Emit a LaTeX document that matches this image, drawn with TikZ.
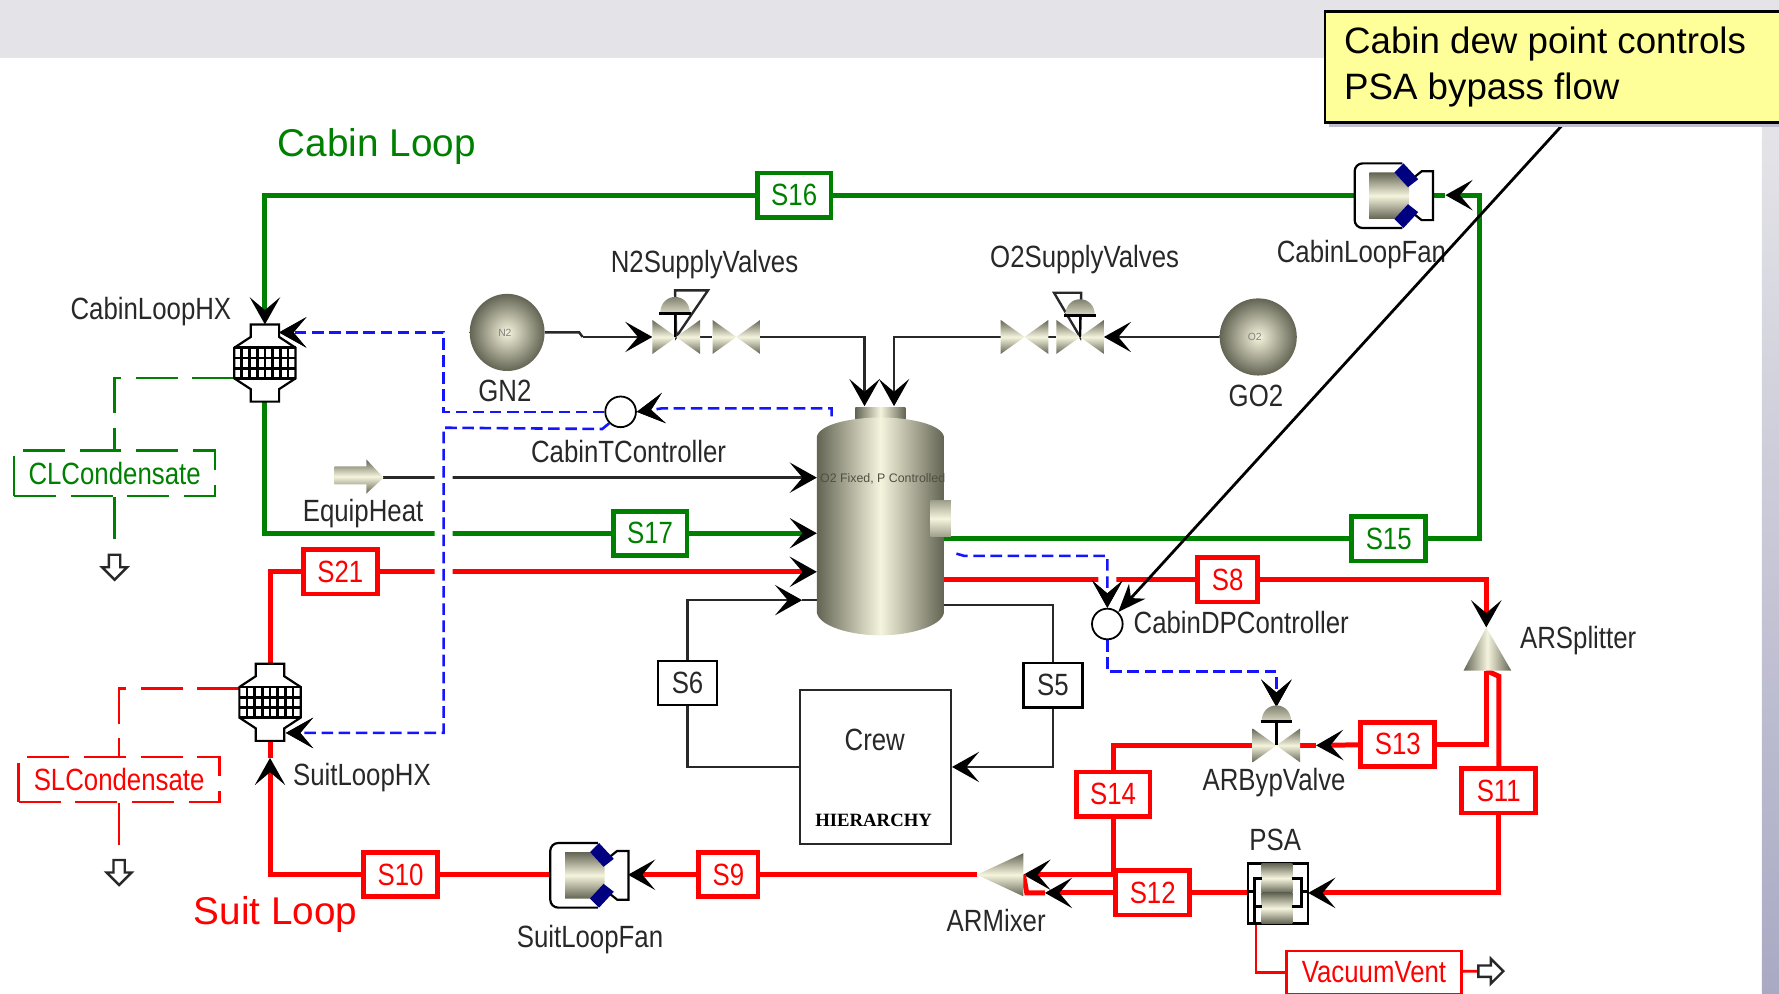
\documentclass[tikz,border=0pt]{standalone}
\usepackage{fontspec}
\usepackage{xcolor}
\usetikzlibrary{arrows.meta, backgrounds}
\setmainfont{Liberation Sans}
\newfontfamily\unitlabel[FakeStretch=0.84]{Liberation Sans}
\newfontfamily\hierlabel{Liberation Serif}

\definecolor{cabgreen}{RGB}{0,128,0}
\definecolor{suitred}{RGB}{255,0,0}
\definecolor{ctrlblue}{RGB}{20,20,255}
\definecolor{metaldark}{RGB}{100,100,84}
\definecolor{metalpale}{RGB}{245,245,222}
\definecolor{notefill}{RGB}{255,255,153}
\definecolor{noteshadow}{RGB}{190,190,207}
\definecolor{bandgray}{RGB}{228,228,232}
\definecolor{stripgray}{RGB}{169,169,196}
\definecolor{inktext}{RGB}{40,40,40}

\tikzset{
  lbl/.style={inktext, inner sep=0, font=\unitlabel\fontsize{7.7}{9}\selectfont},
  looptitle/.style={inner sep=0, font=\fontsize{9.7}{12}\selectfont},
  tag/.style={draw, fill=white, inner sep=0, line width=1.2pt, minimum height=.39cm, font=\unitlabel\fontsize{7.7}{9}\selectfont},
  greentag/.style={tag, draw=cabgreen, text=cabgreen, minimum width=.65cm},
  redtag/.style={tag, draw=suitred, text=suitred, minimum width=.65cm},
  blacktag/.style={tag, draw=black, text=inktext, line width=.6pt, minimum width=.52cm},
  dashbox/.style={draw, fill=white, inner sep=0, line width=.6pt, minimum width=1.77cm, minimum height=.4cm, dash pattern=on 10.5pt off 3.7pt, font=\unitlabel\fontsize{7.7}{9}\selectfont},
  unitspot/.style={inner sep=0, outer sep=0},
  ctrl/.style={draw, circle, fill=white, inner sep=0, line width=.45pt, minimum size=.27cm},
  flowtip/.style={-{Stealth[color=black, length=6.8pt, width=7.6pt, inset=3.2pt]}},
  greenline/.style={draw=cabgreen, line width=1.25pt},
  redline/.style={draw=suitred, line width=1.25pt},
  blackline/.style={draw=inktext, line width=.6pt},
  blueline/.style={draw=ctrlblue, line width=.65pt, dash pattern=on 2.9pt off 1.4pt, preaction={draw=white, solid, line width=4.5pt}},
  greendrain/.style={draw=cabgreen, line width=.6pt, dash pattern=on 10.5pt off 3.7pt},
  reddrain/.style={draw=suitred, line width=.6pt, dash pattern=on 10.5pt off 3.7pt},
  hmetal/.style={left color=metaldark, right color=metaldark, middle color=metalpale},
  vmetal/.style={top color=metaldark, bottom color=metaldark, middle color=metalpale},
  pics/hxunit/.style={code={
    \fill[white] (-12.5,-34) -- (12.5,-34) -- (12.5,-23) -- (27,-13.5) -- (27,13.5) -- (12.5,23) -- (12.5,34) -- (-12.5,34) -- (-12.5,23) -- (-27,13.5) -- (-27,-13.5) -- (-12.5,-23) -- cycle;
    \draw[black, line width=.55pt] (-12.5,-34) -- (12.5,-34) -- (12.5,-23) -- (27,-13.5) -- (27,13.5) -- (12.5,23) -- (12.5,34) -- (-12.5,34) -- (-12.5,23) -- (-27,13.5) -- (-27,-13.5) -- (-12.5,-23) -- cycle;
    \foreach \gx in {-20.3,-13.5,-6.8,0,6.8,13.5,20.3} \draw[black, line width=.7pt] (\gx,-13.5) -- (\gx,13.5);
    \foreach \gy in {-13.5,-4.5,4.5,13.5} \draw[black, line width=.7pt] (-27,\gy) -- (27,\gy);
    \node[unitspot, minimum width=.54cm, minimum height=.68cm] (-u) {};
  }},
  pics/valveunit/.style={code={
    \shade[vmetal] (-21,-15) -- (0,0) -- (-21,15) -- cycle (21,-15) -- (0,0) -- (21,15) -- cycle;
    \node[unitspot, minimum width=.42cm, minimum height=.3cm] (-u) {};
  }},
  pics/domeunit/.style={code={
    \draw[black, line width=.6pt] (0,0) -- (0,#1);
    \shade[top color=metaldark, bottom color=metalpale!80!metaldark] (-13,0) .. controls (-13,-19) and (13,-19) .. (13,0) -- cycle;
    \draw[black, line width=.8pt] (-14,0) -- (14,0);
    \node[unitspot, minimum width=.28cm, minimum height=.26cm] (-u) at (0,0) {};
  }},
  pics/fanunit/.style={code={
    \draw[black, line width=.55pt, rounded corners=2pt] (8,-28) -- (-34,-28) -- (-34,29) -- (8,29);
    \draw[black, line width=.55pt] (15,-13) -- (25,-21) -- (35,-21) -- (35,22) -- (25,22) -- (15,14);
    \shade[vmetal] (-21,-20) -- (1,-20) -- (14,-7) -- (14,8) -- (1,21) -- (-21,21) -- cycle;
    \fill[blue!50!black] (1,-20) -- (9,-28) -- (22,-14) -- (13,-7) -- cycle;
    \fill[blue!50!black] (1,21) -- (9,29) -- (22,15) -- (13,8) -- cycle;
    \node[unitspot, minimum width=.69cm, minimum height=.5cm] (-u) {};
  }},
  pics/ventarrow/.style={code={
    \coordinate (-in) at (-11,0);
    \draw[inktext, line width=.6pt, fill=white] (-11,-5) -- (0,-5) -- (0,-11) -- (11,0) -- (0,11) -- (0,5) -- (-11,5) -- cycle;
  }},
}

\begin{document}
\begin{tikzpicture}[x=0.01cm, y=-0.01cm]
  \useasboundingbox (0,0) rectangle (1568,876);

  % Stream tags
  \node[greentag] (s16) at (700,172) {S16};
  \node[greentag] (s17) at (573,470) {S17};
  \node[greentag] (s15) at (1224,475) {S15};
  \node[redtag] (s21) at (300,504) {S21};
  \node[redtag, minimum width=.53cm] (s8) at (1082,511) {S8};
  \node[redtag] (s13) at (1232,656) {S13};
  \node[redtag] (s14) at (981,700) {S14};
  \node[redtag] (s11) at (1321,697) {S11};
  \node[redtag] (s12) at (1016,787) {S12};
  \node[redtag, minimum width=.52cm] (s9) at (642,771) {S9};
  \node[redtag] (s10) at (353,771) {S10};
  \node[blacktag] (s6) at (606,602) {S6};
  \node[blacktag] (s5) at (928,604) {S5};
  \node[dashbox, draw=cabgreen, text=cabgreen] (clcond) at (101,417) {CLCondensate};
  \node[dashbox, draw=suitred, text=suitred] (slcond) at (105,687) {SLCondensate};
  \node[draw=suitred, text=suitred, fill=white, inner sep=0, line width=.6pt, minimum width=1.54cm, minimum height=.38cm, font=\unitlabel\fontsize{7.7}{9}\selectfont] (vacvent) at (1211,857) {VacuumVent};
  \node[draw=inktext, fill=white, inner sep=0, line width=.6pt, minimum width=1.33cm, minimum height=1.36cm] (crew) at (771.5,676) {};
  \node[lbl] (crewname) at (771,652) {Crew};
  \node[inner sep=0, font=\hierlabel\bfseries\fontsize{4.7}{6}\selectfont] (crewhier) at (770,723) {HIERARCHY};

  % Units
  \pic (cabhx) at (233.5,320) {hxunit};
  \pic (suithx) at (238,619) {hxunit};
  \pic (cabfan) at (1228,172) {fanunit};
  \pic (suitfan) at (519,771) {fanunit};
  \draw[blackline] (595,256) -- (624,256) -- (596,297) -- cycle;
  \draw[blackline] (929,258) -- (953,258) -- (952,297) -- cycle;
  \pic (n2a) at (596,297) {valveunit};
  \pic (n2b) at (649,297) {valveunit};
  \pic (o2a) at (952,297) {valveunit};
  \pic (o2b) at (903,297) {valveunit};
  \pic (bypvalve) at (1125,657) {valveunit};
  \pic (n2act) at (595,276) {domeunit=21};
  \pic (o2act) at (952,278) {domeunit=19};
  \pic (bypact) at (1125,636) {domeunit=21};
  \shade[inner color=metalpale, outer color=metaldark] (447,293) ellipse [x radius=33, y radius=34];
  \node[unitspot, circle, minimum size=.67cm] (gn2) at (447,293) {};
  \node[inner sep=0, gray, font=\fontsize{2.6}{3}\selectfont] (gn2name) at (445,293) {N2};
  \shade[inner color=metalpale, outer color=metaldark] (1109,297) ellipse [x radius=34, y radius=34];
  \node[unitspot, circle, minimum size=.68cm] (go2) at (1109,297) {};
  \node[inner sep=0, gray, font=\fontsize{2.6}{3}\selectfont] (go2name) at (1106,297) {O2};
  \shade[hmetal] (754,359) rectangle (798,372);
  \shade[hmetal] (720,385) .. controls (722,374) and (750,368) .. (776,368) .. controls (802,368) and (830,374) .. (832,385) -- (832,540) .. controls (830,552) and (802,560) .. (776,560) .. controls (750,560) and (722,552) .. (720,540) -- cycle;
  \shade[top color=metaldark!60!metalpale, bottom color=metaldark!60!metalpale, middle color=metalpale] (820,441) rectangle (838,473);
  \node[unitspot, minimum width=1.12cm, minimum height=1.98cm] (vessel) at (776,461) {};
  \node[inner sep=0, metaldark!80!black, font=\fontsize{3.1}{4}\selectfont] (vesselname) at (778,422) {O2 Fixed, P Controlled};
  \shade[hmetal] (1290,591) -- (1310,553) -- (1332,591) -- cycle;
  \node[unitspot, minimum width=.42cm, minimum height=.38cm] (arsplit) at (1310,572) {};
  \shade[vmetal] (861,771) -- (902,752) -- (902,790) -- cycle;
  \node[unitspot, minimum width=.41cm, minimum height=.38cm] (armix) at (881.5,771) {};
  \shade[vmetal] (295,411) -- (323,411) -- (323,405) -- (338,421) -- (323,435) -- (323,427) -- (295,427) -- cycle;
  \node[unitspot, minimum width=.43cm, minimum height=.3cm] (equipsrc) at (316.5,421) {};
  \draw[black, line width=.6pt, fill=white] (1100,761) rectangle (1153,814);
  \shade[top color=metaldark, bottom color=metaldark, middle color=metalpale] (1112,761) rectangle (1139,787);
  \shade[top color=metaldark, bottom color=metaldark, middle color=metalpale] (1112,787) rectangle (1139,814);
  \draw[black, line width=.7pt] (1112,774) -- (1106,774) -- (1106,814) (1106,799) -- (1112,799) (1100,786) -- (1106,786);
  \draw[black, line width=.7pt] (1139,774) -- (1147,774) -- (1147,799) -- (1139,799) (1147,786) -- (1153,786);
  \node[unitspot, minimum width=.53cm, minimum height=.53cm] (psa) at (1126.5,787) {};
  \node[ctrl] (tctrl) at (547,363) {};
  \node[ctrl] (dpctrl) at (976,550) {};
  \pic[rotate=-90] (cldrain) at (101,500) {ventarrow};
  \pic[rotate=-90] (sldrain) at (105,769) {ventarrow};
  \pic (vacdrain) at (1314,856) {ventarrow};

  % Free ends
  \coordinate (n2tip) at (762,358);
  \coordinate (o2tip) at (788,358);
  \coordinate (s6tip) at (707,529);
  \coordinate (cabfantip) at (1274,172);
  \coordinate (cabcorner) at (1304,172);
  \coordinate (bypvtip) at (1160,657);
  \coordinate (s12tip) at (921,787);
  \coordinate (suithxtip) at (238,668);
  \coordinate (cabhxctl) at (246,293);
  \coordinate (suithxctl) at (252,646);
  \coordinate (blueup) at (391,293);
  \coordinate (bluemid) at (391,377);
  \coordinate (bluelow) at (391,646);
  \coordinate (tprobe) at (733,367);
  \coordinate (dpprobe) at (843,488);
  \coordinate (dpbend) at (1125,592);
  \coordinate (clbend) at (101,333);
  \coordinate (slbend) at (105,607);
  \coordinate (calloutfoot) at (1380,107);

  \begin{scope}[on background layer]
    \fill[bandgray] (0,0) rectangle (1568,51);
    \shade[top color=bandgray, bottom color=stripgray] (1553,112) rectangle (1568,876);

    % Cabin loop
    \draw[greenline] (cabfan-u.west) -- (s16);
    \draw[greenline, flowtip] (s16) -| (cabhx-u.north);
    \draw[greenline] (cabhx-u.south) |- (s17);
    \draw[greenline, flowtip] (s17) -- (s17 -| vessel.west);
    \draw[greenline] (vessel.east |- s15) -- (s15);
    \draw[greenline, flowtip] (s15) -| (cabcorner) -- (cabfantip);
    \draw[greenline] (cabfantip) -- (cabfan-u.east);
    \draw[greendrain] (cabhx-u.west |- clbend) -- (clbend) -- (clcond);
    \draw[greendrain] (clcond) -- (cldrain-in);

    % Suit loop
    \draw[redline] (suithx-u.north) |- (s21);
    \draw[redline, flowtip] (s21) -- (s21 -| vessel.west);
    \draw[redline] (vessel.east |- s8) -- (s8);
    \draw[redline, flowtip] (s8) -| (arsplit.north);
    \draw[redline] (arsplit.south) |- (s13);
    \draw[redline] (arsplit.south) -- ++(11,5) -- (s11);
    \draw[redline, flowtip] (s13) -- (bypvtip);
    \draw[redline] (bypvtip) -- (bypvalve-u.east);
    \draw[redline] (bypvalve-u.west) -| (s14);
    \draw[redline, flowtip] (s14) |- (armix.east);
    \draw[redline, flowtip] (s11) |- (psa.east);
    \draw[redline] (psa.west) -- (s12);
    \draw[redline, flowtip] (s12) -- (s12tip);
    \draw[redline] (s12tip) -- ++(-16,0) -- (armix.east);
    \draw[redline] (armix.west) -- (s9);
    \draw[redline, flowtip] (s9) -- (suitfan-u.east);
    \draw[redline] (suitfan-u.west) -- (s10);
    \draw[redline, flowtip] (s10) -| (suithxtip);
    \draw[redline] (suithxtip) -- (suithx-u.south);
    \draw[reddrain] (suithx-u.west |- slbend) -- (slbend) -- (slcond);
    \draw[reddrain] (slcond) -- (sldrain-in);
    \draw[draw=suitred, line width=.7pt] (psa.south west) ++(7,0) |- (vacvent);
    \draw[draw=suitred, line width=.7pt] (vacvent) -- (vacdrain-in);

    % Supply and crew
    \draw[blackline] (gn2.east) -- ++(30,0) -- ++(3,4) coordinate (n2step);
    \draw[blackline, flowtip] (n2step) -- (n2a-u.west);
    \draw[blackline] (n2a-u.east) -- (n2b-u.west);
    \draw[blackline, flowtip] (n2b-u.east) -| (n2tip);
    \draw[blackline, flowtip] (go2.west) -- (o2a-u.east);
    \draw[blackline] (o2a-u.west) -- (o2b-u.east);
    \draw[blackline, flowtip] (o2b-u.west) -| (o2tip);
    \draw[blackline, flowtip] (equipsrc.east) -- (vessel.west |- equipsrc.east);
    \draw[blackline] (crew.west) -| (s6);
    \draw[blackline, flowtip] (s6) |- (s6tip);
    \draw[blackline] (s6tip) -- (s6tip -| vessel.west);
    \draw[blackline] (vessel.east |- 0,533) -| (s5);
    \draw[blackline, flowtip] (s5) |- (crew.east);

    % Control signals
    \draw[blueline, flowtip] (tctrl.west) -| (blueup) -- (cabhxctl);
    \draw[blueline, flowtip] (tctrl.south west) -- ++(-6,5) -- (bluemid) -- (bluelow) -- (suithxctl);
    \draw[blueline, flowtip] (tprobe) -- ++(0,-7) -- ++(-150,0) -- (tctrl.east);
    \draw[blueline, flowtip] (dpprobe) -- ++(7,2) -| (dpctrl.north);
    \draw[blueline, flowtip] (dpctrl.south) |- (dpbend) -- (bypact-u.north);
  \end{scope}

  % Labels
  \node[looptitle, cabgreen] (cabintitle) at (332,129) {Cabin Loop};
  \node[looptitle, suitred] (suittitle) at (243,806) {Suit Loop};
  \node[lbl] (lblcabhx) at (133,275) {CabinLoopHX};
  \node[lbl] (lblgn2) at (445,345) {GN2};
  \node[lbl] (lbln2) at (621,233) {N2SupplyValves};
  \node[lbl] (lblo2) at (956,229) {O2SupplyValves};
  \node[lbl] (lblgo2) at (1107,349) {GO2};
  \node[lbl] (lblcabfan) at (1200,224) {CabinLoopFan};
  \node[lbl] (lbltctrl) at (554,398) {CabinTController};
  \node[lbl] (lblequip) at (320,453) {EquipHeat};
  \node[lbl] (lbldp) at (1094,549) {CabinDPController};
  \node[lbl] (lblsplit) at (1391,565) {ARSplitter};
  \node[lbl] (lblsuithx) at (319,685) {SuitLoopHX};
  \node[lbl] (lblbyp) at (1123,690) {ARBypValve};
  \node[lbl] (lblpsa) at (1124,740) {PSA};
  \node[lbl] (lblmix) at (878,811) {ARMixer};
  \node[lbl] (lblsuitfan) at (520,828) {SuitLoopFan};

  % Callout
  \draw[black, line width=.7pt, -{Stealth[length=7pt, width=5.5pt]}] (calloutfoot) -- (dpctrl);
  \fill[noteshadow] (1171,13) rectangle (1568,112);
  \node[draw=black, fill=notefill, line width=.6pt, anchor=north west, minimum width=4.2cm, minimum height=.98cm] (callout) at (1167,9) {};
  \node[anchor=west, inner sep=0, align=left, font=\fontsize{9.2}{11.35}\selectfont] (callouttext) at (1184,59) {Cabin dew point controls\\PSA bypass flow};
\end{tikzpicture}
\end{document}
